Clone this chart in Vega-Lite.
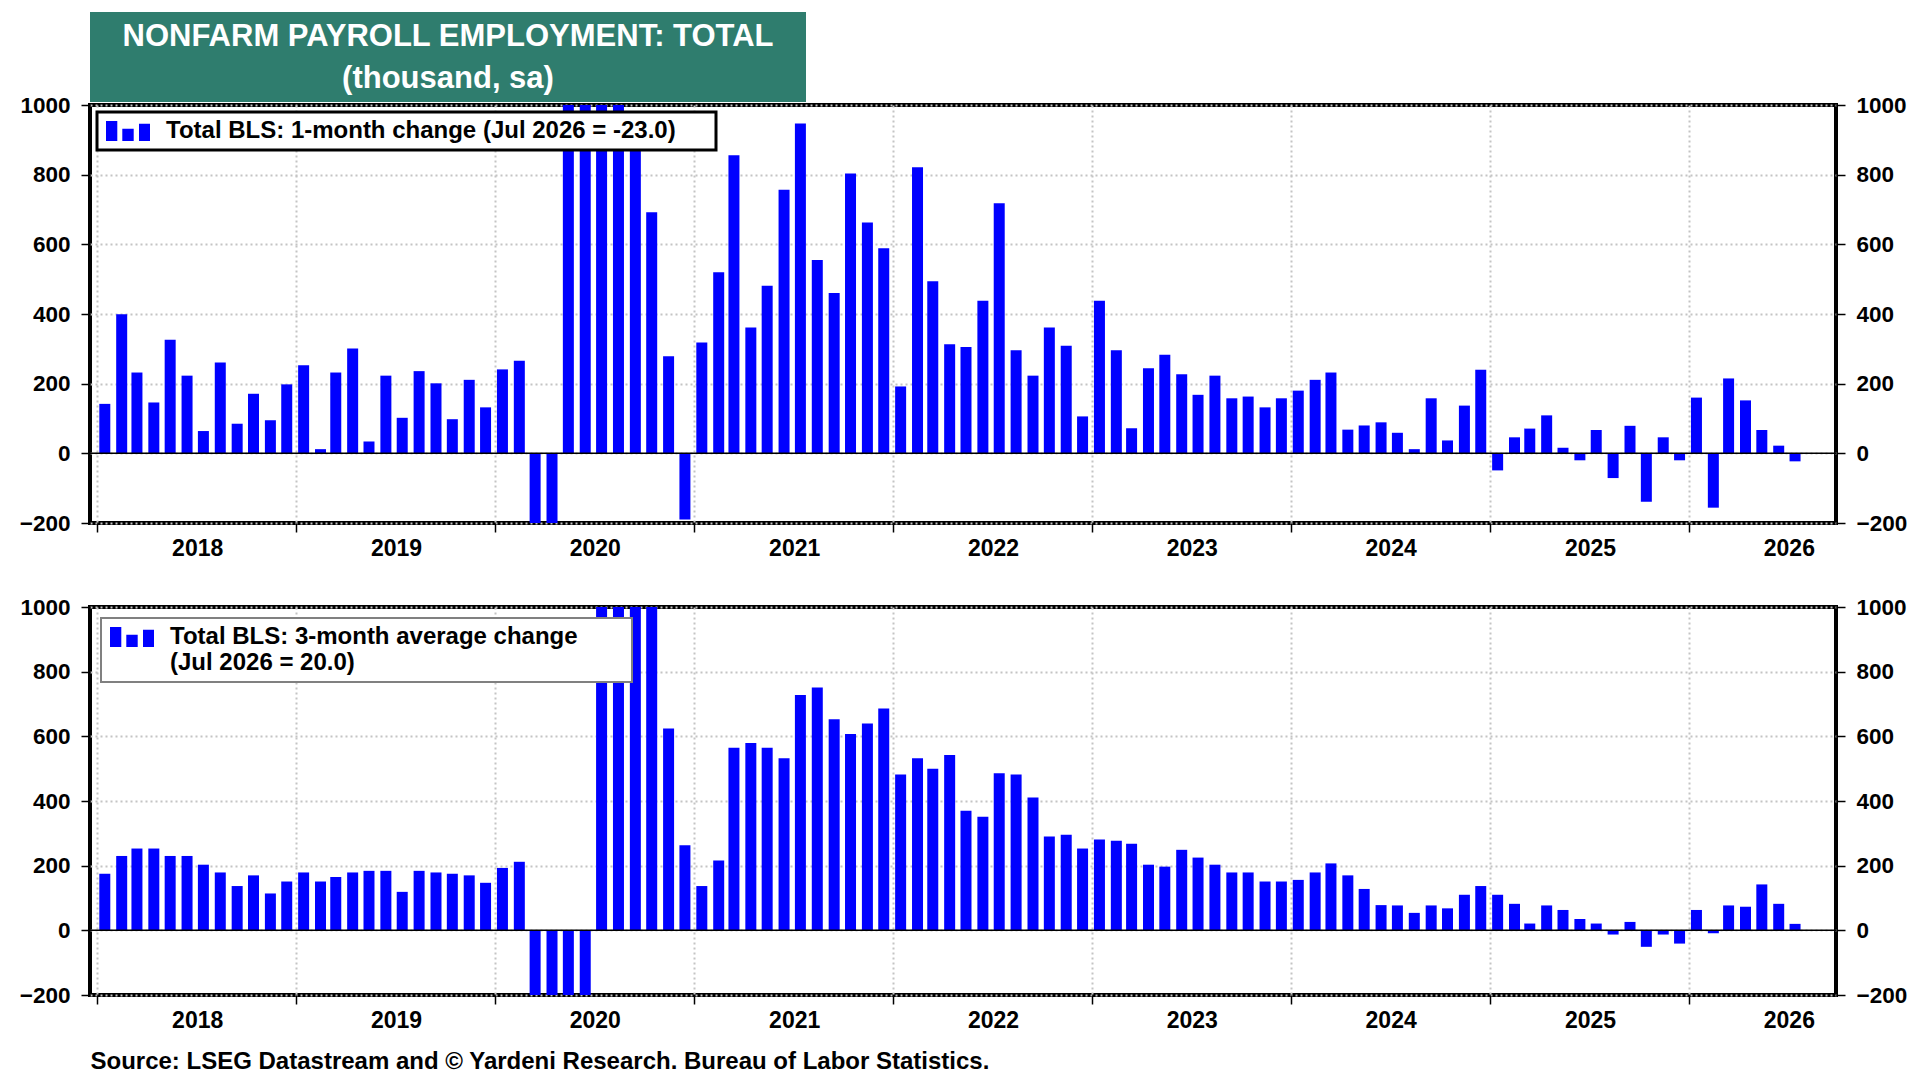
{
  "$schema": "https://vega.github.io/schema/vega-lite/v6.json",
  "background": "white",
  "padding": {"left": 17, "top": 12, "right": 10, "bottom": 5},
  "autosize": {"type": "pad"},
  "config": {
    "font": "Liberation Sans",
    "view": {"stroke": "black", "strokeWidth": 4},
    "axis": {
      "labelFont": "Liberation Sans",
      "labelFontWeight": "bold",
      "labelFontSize": 22.5,
      "labelColor": "black",
      "tickColor": "black",
      "tickWidth": 1.5,
      "tickSize": 9,
      "gridColor": "#c4c4c4",
      "gridDash": [2, 3],
      "gridWidth": 2,
      "domain": false
    }
  },
  "datasets": {
    "m1": [
      {"date": "2018-01-15", "v": 142}, {"date": "2018-02-15", "v": 399}, {"date": "2018-03-15", "v": 232}, {"date": "2018-04-15", "v": 146},
      {"date": "2018-05-15", "v": 326}, {"date": "2018-06-15", "v": 223}, {"date": "2018-07-15", "v": 64}, {"date": "2018-08-15", "v": 261},
      {"date": "2018-09-15", "v": 85}, {"date": "2018-10-15", "v": 171}, {"date": "2018-11-15", "v": 95}, {"date": "2018-12-15", "v": 198},
      {"date": "2019-01-15", "v": 253}, {"date": "2019-02-15", "v": 12}, {"date": "2019-03-15", "v": 232}, {"date": "2019-04-15", "v": 301},
      {"date": "2019-05-15", "v": 34}, {"date": "2019-06-15", "v": 223}, {"date": "2019-07-15", "v": 102}, {"date": "2019-08-15", "v": 236},
      {"date": "2019-09-15", "v": 201}, {"date": "2019-10-15", "v": 98}, {"date": "2019-11-15", "v": 211}, {"date": "2019-12-15", "v": 132},
      {"date": "2020-01-15", "v": 241}, {"date": "2020-02-15", "v": 266}, {"date": "2020-03-15", "v": -1373}, {"date": "2020-04-15", "v": -20477},
      {"date": "2020-05-15", "v": 2725}, {"date": "2020-06-15", "v": 4781}, {"date": "2020-07-15", "v": 1726}, {"date": "2020-08-15", "v": 1583},
      {"date": "2020-09-15", "v": 900}, {"date": "2020-10-15", "v": 692}, {"date": "2020-11-15", "v": 279}, {"date": "2020-12-15", "v": -190},
      {"date": "2021-01-15", "v": 318}, {"date": "2021-02-15", "v": 520}, {"date": "2021-03-15", "v": 856}, {"date": "2021-04-15", "v": 361},
      {"date": "2021-05-15", "v": 481}, {"date": "2021-06-15", "v": 757}, {"date": "2021-07-15", "v": 947}, {"date": "2021-08-15", "v": 555},
      {"date": "2021-09-15", "v": 460}, {"date": "2021-10-15", "v": 803}, {"date": "2021-11-15", "v": 663}, {"date": "2021-12-15", "v": 589},
      {"date": "2022-01-15", "v": 192}, {"date": "2022-02-15", "v": 821}, {"date": "2022-03-15", "v": 494}, {"date": "2022-04-15", "v": 313},
      {"date": "2022-05-15", "v": 305}, {"date": "2022-06-15", "v": 438}, {"date": "2022-07-15", "v": 718}, {"date": "2022-08-15", "v": 296},
      {"date": "2022-09-15", "v": 223}, {"date": "2022-10-15", "v": 361}, {"date": "2022-11-15", "v": 309}, {"date": "2022-12-15", "v": 106},
      {"date": "2023-01-15", "v": 438}, {"date": "2023-02-15", "v": 296}, {"date": "2023-03-15", "v": 72}, {"date": "2023-04-15", "v": 244},
      {"date": "2023-05-15", "v": 283}, {"date": "2023-06-15", "v": 227}, {"date": "2023-07-15", "v": 168}, {"date": "2023-08-15", "v": 223},
      {"date": "2023-09-15", "v": 158}, {"date": "2023-10-15", "v": 163}, {"date": "2023-11-15", "v": 132}, {"date": "2023-12-15", "v": 158},
      {"date": "2024-01-15", "v": 180}, {"date": "2024-02-15", "v": 211}, {"date": "2024-03-15", "v": 232}, {"date": "2024-04-15", "v": 68},
      {"date": "2024-05-15", "v": 80}, {"date": "2024-06-15", "v": 89}, {"date": "2024-07-15", "v": 59}, {"date": "2024-08-15", "v": 12},
      {"date": "2024-09-15", "v": 158}, {"date": "2024-10-15", "v": 37}, {"date": "2024-11-15", "v": 137}, {"date": "2024-12-15", "v": 240},
      {"date": "2025-01-15", "v": -49}, {"date": "2025-02-15", "v": 46}, {"date": "2025-03-15", "v": 71}, {"date": "2025-04-15", "v": 109},
      {"date": "2025-05-15", "v": 16}, {"date": "2025-06-15", "v": -20}, {"date": "2025-07-15", "v": 67}, {"date": "2025-08-15", "v": -71},
      {"date": "2025-09-15", "v": 79}, {"date": "2025-10-15", "v": -139}, {"date": "2025-11-15", "v": 46}, {"date": "2025-12-15", "v": -20},
      {"date": "2026-01-15", "v": 160}, {"date": "2026-02-15", "v": -156}, {"date": "2026-03-15", "v": 215}, {"date": "2026-04-15", "v": 152},
      {"date": "2026-05-15", "v": 67}, {"date": "2026-06-15", "v": 22}, {"date": "2026-07-15", "v": -23}
    ],
    "m3": [
      {"date": "2018-01-15", "v": 175}, {"date": "2018-02-15", "v": 230}, {"date": "2018-03-15", "v": 253}, {"date": "2018-04-15", "v": 253},
      {"date": "2018-05-15", "v": 230}, {"date": "2018-06-15", "v": 230}, {"date": "2018-07-15", "v": 203}, {"date": "2018-08-15", "v": 179},
      {"date": "2018-09-15", "v": 137}, {"date": "2018-10-15", "v": 170}, {"date": "2018-11-15", "v": 114}, {"date": "2018-12-15", "v": 151},
      {"date": "2019-01-15", "v": 179}, {"date": "2019-02-15", "v": 151}, {"date": "2019-03-15", "v": 165}, {"date": "2019-04-15", "v": 179},
      {"date": "2019-05-15", "v": 184}, {"date": "2019-06-15", "v": 184}, {"date": "2019-07-15", "v": 119}, {"date": "2019-08-15", "v": 184},
      {"date": "2019-09-15", "v": 179}, {"date": "2019-10-15", "v": 175}, {"date": "2019-11-15", "v": 170}, {"date": "2019-12-15", "v": 147},
      {"date": "2020-01-15", "v": 193}, {"date": "2020-02-15", "v": 212}, {"date": "2020-03-15", "v": -289}, {"date": "2020-04-15", "v": -7195},
      {"date": "2020-05-15", "v": -6375}, {"date": "2020-06-15", "v": -4324}, {"date": "2020-07-15", "v": 3077}, {"date": "2020-08-15", "v": 2697},
      {"date": "2020-09-15", "v": 1403}, {"date": "2020-10-15", "v": 1058}, {"date": "2020-11-15", "v": 624}, {"date": "2020-12-15", "v": 263},
      {"date": "2021-01-15", "v": 137}, {"date": "2021-02-15", "v": 216}, {"date": "2021-03-15", "v": 565}, {"date": "2021-04-15", "v": 579},
      {"date": "2021-05-15", "v": 565}, {"date": "2021-06-15", "v": 532}, {"date": "2021-07-15", "v": 728}, {"date": "2021-08-15", "v": 751},
      {"date": "2021-09-15", "v": 653}, {"date": "2021-10-15", "v": 607}, {"date": "2021-11-15", "v": 640}, {"date": "2021-12-15", "v": 686},
      {"date": "2022-01-15", "v": 482}, {"date": "2022-02-15", "v": 532}, {"date": "2022-03-15", "v": 500}, {"date": "2022-04-15", "v": 542},
      {"date": "2022-05-15", "v": 370}, {"date": "2022-06-15", "v": 351}, {"date": "2022-07-15", "v": 486}, {"date": "2022-08-15", "v": 482},
      {"date": "2022-09-15", "v": 411}, {"date": "2022-10-15", "v": 290}, {"date": "2022-11-15", "v": 296}, {"date": "2022-12-15", "v": 253},
      {"date": "2023-01-15", "v": 281}, {"date": "2023-02-15", "v": 277}, {"date": "2023-03-15", "v": 268}, {"date": "2023-04-15", "v": 203},
      {"date": "2023-05-15", "v": 197}, {"date": "2023-06-15", "v": 249}, {"date": "2023-07-15", "v": 225}, {"date": "2023-08-15", "v": 203},
      {"date": "2023-09-15", "v": 179}, {"date": "2023-10-15", "v": 179}, {"date": "2023-11-15", "v": 151}, {"date": "2023-12-15", "v": 151},
      {"date": "2024-01-15", "v": 156}, {"date": "2024-02-15", "v": 179}, {"date": "2024-03-15", "v": 207}, {"date": "2024-04-15", "v": 170},
      {"date": "2024-05-15", "v": 128}, {"date": "2024-06-15", "v": 78}, {"date": "2024-07-15", "v": 77}, {"date": "2024-08-15", "v": 54},
      {"date": "2024-09-15", "v": 77}, {"date": "2024-10-15", "v": 68}, {"date": "2024-11-15", "v": 110}, {"date": "2024-12-15", "v": 137},
      {"date": "2025-01-15", "v": 110}, {"date": "2025-02-15", "v": 82}, {"date": "2025-03-15", "v": 21}, {"date": "2025-04-15", "v": 77},
      {"date": "2025-05-15", "v": 63}, {"date": "2025-06-15", "v": 35}, {"date": "2025-07-15", "v": 21}, {"date": "2025-08-15", "v": -13},
      {"date": "2025-09-15", "v": 26}, {"date": "2025-10-15", "v": -51}, {"date": "2025-11-15", "v": -13}, {"date": "2025-12-15", "v": -41},
      {"date": "2026-01-15", "v": 63}, {"date": "2026-02-15", "v": -9}, {"date": "2026-03-15", "v": 77}, {"date": "2026-04-15", "v": 73},
      {"date": "2026-05-15", "v": 142}, {"date": "2026-06-15", "v": 82}, {"date": "2026-07-15", "v": 20}
    ]
  },
  "bounds": "flush",
  "spacing": 3,
  "resolve": {"scale": {"x": "independent", "y": "independent", "color": "independent"}, "legend": {"color": "independent"}},
  "vconcat": [
    {
      "width": 716,
      "height": 90,
      "view": {"fill": "#2F7D6E", "stroke": null},
      "data": {"values": [{"k": 1}]},
      "mark": {"type": "text", "color": "white", "fontSize": 31, "fontWeight": "bold", "font": "Liberation Sans", "lineHeight": 42, "align": "center", "baseline": "middle", "dy": -20},
      "encoding": {
        "text": {"value": ["NONFARM PAYROLL EMPLOYMENT: TOTAL", "(thousand, sa)"]},
        "x": {"datum": 0.5, "type": "quantitative", "scale": {"domain": [0, 1]}, "axis": null},
        "y": {"datum": 0.5, "type": "quantitative", "scale": {"domain": [0, 1]}, "axis": null}
      }
    },
    {
      "width": 1746,
      "height": 418,
      "layer": [
        {
          "data": {"name": "m1"},
          "mark": {"type": "bar", "width": 11, "clip": true},
          "encoding": {
            "x": {"field": "date", "type": "temporal",
              "scale": {"type": "utc", "domain": [{"year": 2017, "month": 12, "date": 28, "utc": true}, {"year": 2026, "month": 9, "date": 19, "utc": true}]},
              "axis": {"orient": "bottom", "title": null, "format": "%Y", "tickCount": {"interval": "year", "step": 1}, "labelOffset": 100, "labelFlush": false, "labelOverlap": false, "grid": true, "labelPadding": 5, "labelFontSize": 23}},
            "y": {"field": "v", "type": "quantitative", "scale": {"domain": [-200, 1000], "nice": false},
              "axis": {"orient": "left", "title": null, "format": "d", "values": [-200, 0, 200, 400, 600, 800, 1000], "grid": true, "labelPadding": 11}},
            "color": {"datum": "Total BLS: 1-month change (Jul 2026 = -23.0)", "type": "nominal", "scale": {"range": ["#0000ff"]},
              "legend": {"title": null, "orient": "top-left", "offset": 7, "padding": 7, "fillColor": "white", "strokeColor": "black",
                "encoding": {"legend": {"strokeWidth": {"value": 3}}},
                "symbolType": "M-1,-1H0.13V1H-1Z M0.63,-0.23H1.77V1H0.63Z M2.3,-0.73H3.4V1H2.3Z", "symbolSize": 400, "symbolStrokeWidth": 0,
                "labelFontSize": 24, "labelFontWeight": "bold", "labelColor": "black", "labelLimit": 0, "labelOffset": 38,
                "labelExpr": "datum.label + '     \u200b'"}}
          }
        },
        {
          "data": {"values": [{"k": 0}]},
          "mark": {"type": "rule", "color": "black", "strokeWidth": 1.5},
          "encoding": {
            "y": {"datum": 0, "type": "quantitative", "scale": {"domain": [-200, 1000], "nice": false},
              "axis": {"orient": "right", "title": null, "format": "d", "values": [-200, 0, 200, 400, 600, 800, 1000], "grid": false, "labelPadding": 11}}
          }
        }
      ],
      "resolve": {"scale": {"y": "independent"}}
    },
    {
      "width": 1746,
      "height": 78,
      "view": {"stroke": null},
      "data": {"values": []},
      "mark": "point",
      "encoding": {}
    },
    {
      "width": 1746,
      "height": 388,
      "layer": [
        {
          "data": {"name": "m3"},
          "mark": {"type": "bar", "width": 11, "clip": true},
          "encoding": {
            "x": {"field": "date", "type": "temporal",
              "scale": {"type": "utc", "domain": [{"year": 2017, "month": 12, "date": 28, "utc": true}, {"year": 2026, "month": 9, "date": 19, "utc": true}]},
              "axis": {"orient": "bottom", "title": "Source: LSEG Datastream and © Yardeni Research. Bureau of Labor Statistics.", "titleFontSize": 24, "titleFontWeight": "bold", "titleColor": "black", "titleFont": "Liberation Sans", "titleAnchor": "start", "titleAlign": "left", "titlePadding": 17,
                "format": "%Y", "tickCount": {"interval": "year", "step": 1}, "labelOffset": 100, "labelFlush": false, "labelOverlap": false, "grid": true, "labelPadding": 5, "labelFontSize": 23}},
            "y": {"field": "v", "type": "quantitative", "scale": {"domain": [-200, 1000], "nice": false},
              "axis": {"orient": "left", "title": null, "format": "d", "values": [-200, 0, 200, 400, 600, 800, 1000], "grid": true, "labelPadding": 11}},
            "color": {"datum": "Total BLS: 3-month average change (Jul 2026 = 20.0)", "type": "nominal", "scale": {"range": ["#0000ff"]},
              "legend": {"title": null, "orient": "top-left", "offset": 11, "padding": 7, "fillColor": "white", "strokeColor": "#808080",
                "encoding": {"legend": {"strokeWidth": {"value": 2}}},
                "symbolType": "M-1,-1H0.13V1H-1Z M0.63,-0.23H1.77V1H0.63Z M2.3,-0.73H3.4V1H2.3Z", "symbolSize": 400, "symbolStrokeWidth": 0,
                "labelFontSize": 24, "labelFontWeight": "bold", "labelColor": "black", "labelLimit": 0, "labelOffset": 38,
                "labelExpr": "[slice(datum.label, 0, 33) + '       \u200b', slice(datum.label, 34)]"}}
          }
        },
        {
          "data": {"values": [{"k": 0}]},
          "mark": {"type": "rule", "color": "black", "strokeWidth": 1.5},
          "encoding": {
            "y": {"datum": 0, "type": "quantitative", "scale": {"domain": [-200, 1000], "nice": false},
              "axis": {"orient": "right", "title": null, "format": "d", "values": [-200, 0, 200, 400, 600, 800, 1000], "grid": false, "labelPadding": 11}}
          }
        }
      ],
      "resolve": {"scale": {"y": "independent"}}
    }
  ]
}
